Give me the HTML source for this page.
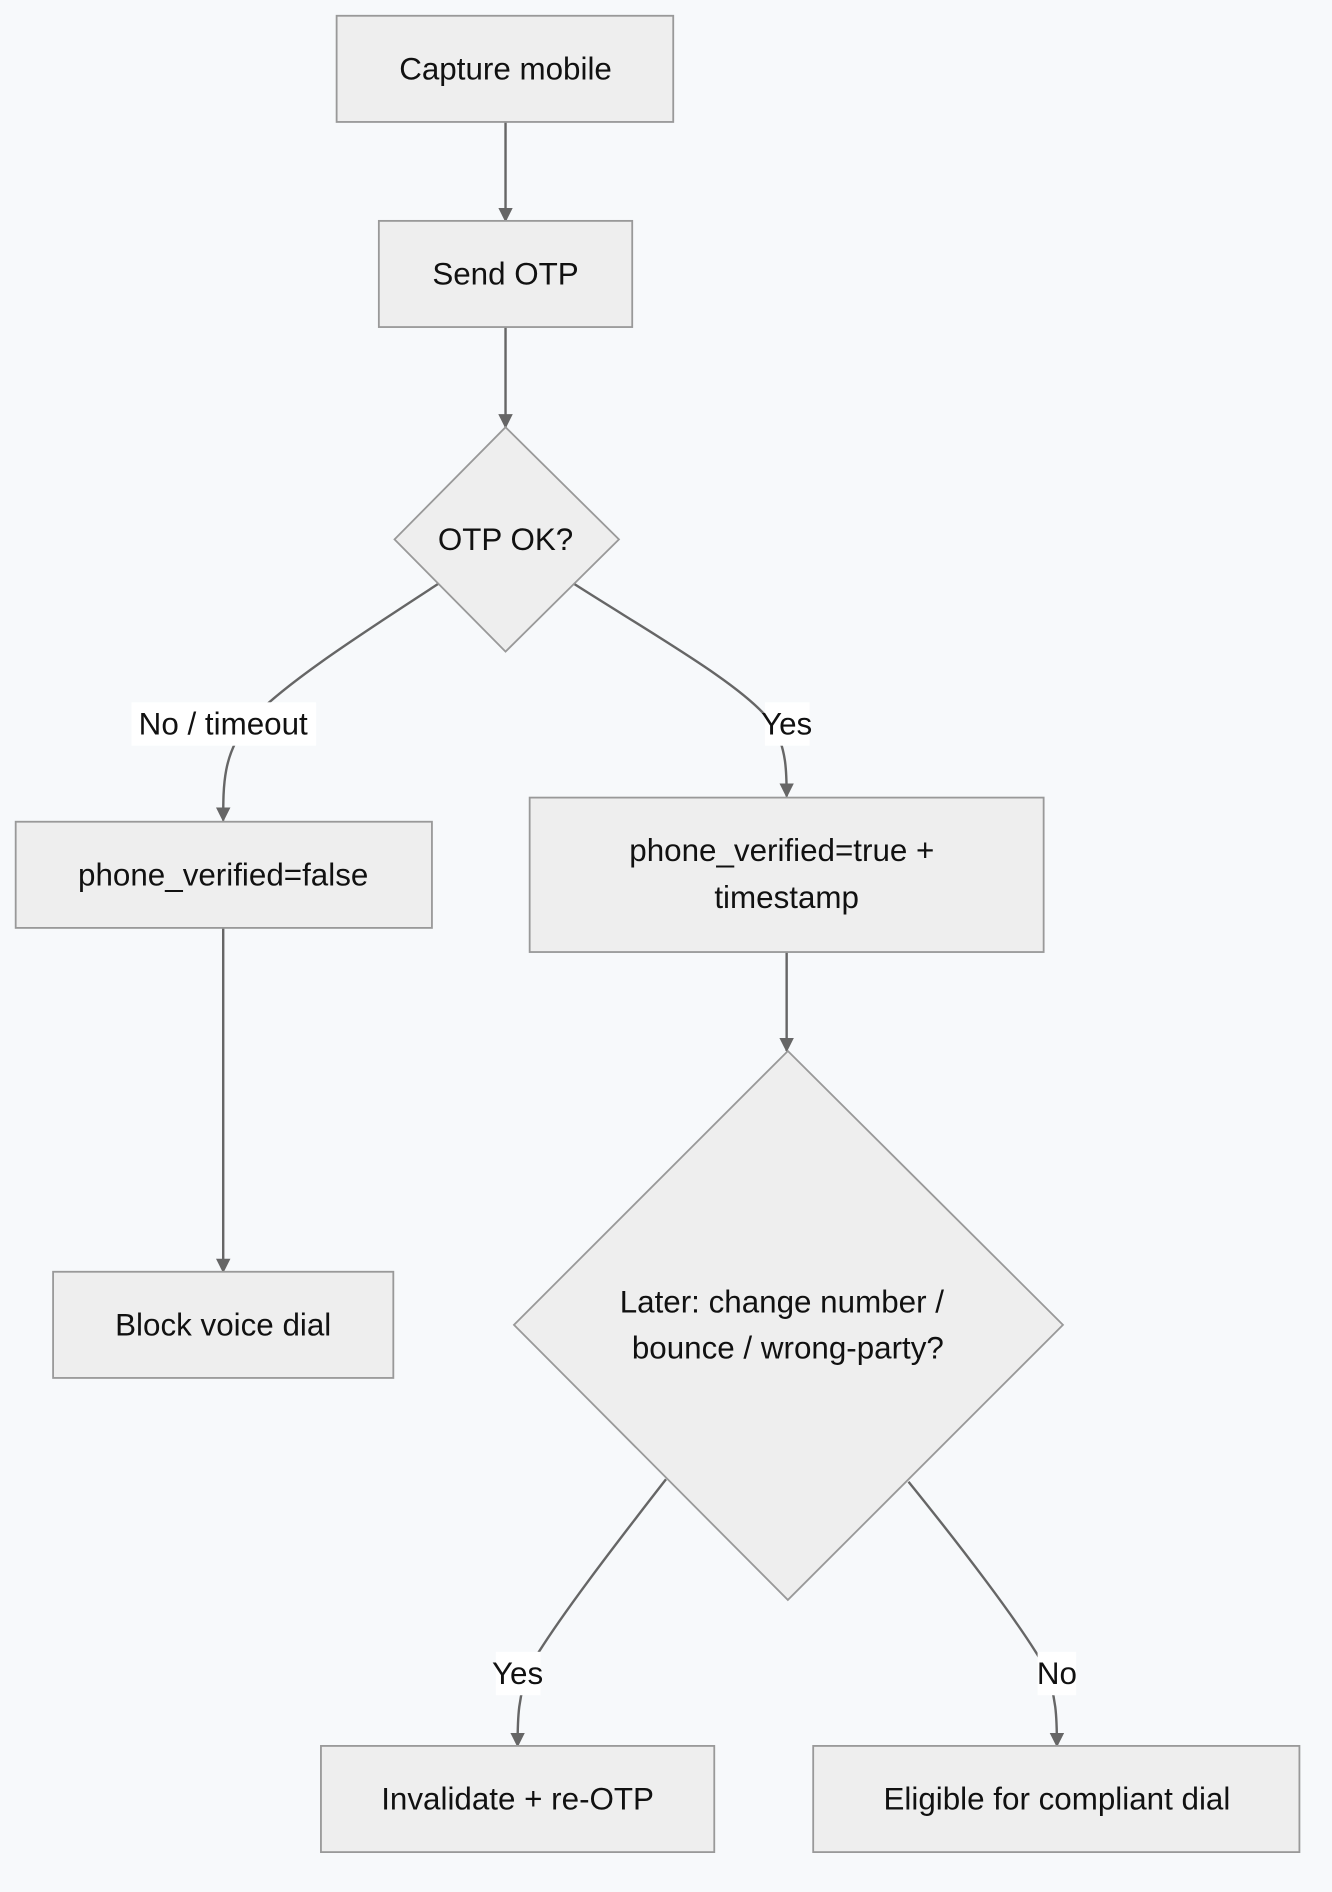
<!DOCTYPE html>
<html><head><style>
html,body{margin:0;padding:0;background:#f7f9fb;}
svg{display:block;}
text{font-family:"Liberation Sans",sans-serif;font-size:26px;fill:#111;text-anchor:middle;dominant-baseline:central;}
</style></head><body>
<svg width="1332" height="1892" viewBox="0 0 1104 1568" xmlns="http://www.w3.org/2000/svg">
<defs><marker id="a" viewBox="0 0 10 10" refX="9" refY="5" markerWidth="6" markerHeight="6" orient="auto"><path d="M0,0L10,5L0,10z" fill="#666"/></marker></defs>
<rect width="1104" height="1568" fill="#f7f9fb"/>
<g fill="none" stroke="#666" stroke-width="2">
<path d="M419,101V183" marker-end="url(#a)"/>
<path d="M419,271V354" marker-end="url(#a)"/>
<path d="M363,484C300,525 230,570 205,600C185,625 185,650 185,680" marker-end="url(#a)"/>
<path d="M476,484C540,525 620,570 640,600C652,620 652,640 652,660" marker-end="url(#a)"/>
<path d="M185,769V1054" marker-end="url(#a)"/>
<path d="M652,789V871" marker-end="url(#a)"/>
<path d="M552,1226C510,1280 460,1345 440,1380C429,1405 429,1425 429,1447" marker-end="url(#a)"/>
<path d="M753,1228C795,1280 845,1345 865,1380C876,1405 876,1425 876,1447" marker-end="url(#a)"/>
</g>
<g fill="#eeeeee" stroke="#999" stroke-width="1.5">
<rect x="279" y="13" width="279" height="88"/>
<rect x="314" y="183" width="210" height="88"/>
<polygon points="419,354 513,447 419,540 327,447"/>
<rect x="13" y="681" width="345" height="88"/>
<rect x="439" y="661" width="426" height="128"/>
<rect x="44" y="1054" width="282" height="88"/>
<polygon points="653,871 881,1098 653,1326 426,1098"/>
<rect x="266" y="1447" width="326" height="88"/>
<rect x="674" y="1447" width="403" height="88"/>
</g>
<g fill="#fff">
<rect x="109" y="582" width="153" height="36"/>
<rect x="634" y="582" width="37" height="36"/>
<rect x="411" y="1369" width="37" height="36"/>
<rect x="860" y="1369" width="32" height="36"/>
</g>
<text x="419" y="57">Capture mobile</text>
<text x="419" y="227">Send OTP</text>
<text x="419" y="447">OTP OK?</text>
<text x="185" y="600">No / timeout</text>
<text x="652" y="600">Yes</text>
<text x="185" y="725">phone_verified=false</text>
<text x="648" y="705">phone_verified=true +</text>
<text x="652" y="744">timestamp</text>
<text x="185" y="1098">Block voice dial</text>
<text x="648" y="1079">Later: change number /</text>
<text x="653" y="1117">bounce / wrong-party?</text>
<text x="429" y="1387">Yes</text>
<text x="876" y="1387">No</text>
<text x="429" y="1491">Invalidate + re-OTP</text>
<text x="876" y="1491">Eligible for compliant dial</text>
</svg>
</body></html>
